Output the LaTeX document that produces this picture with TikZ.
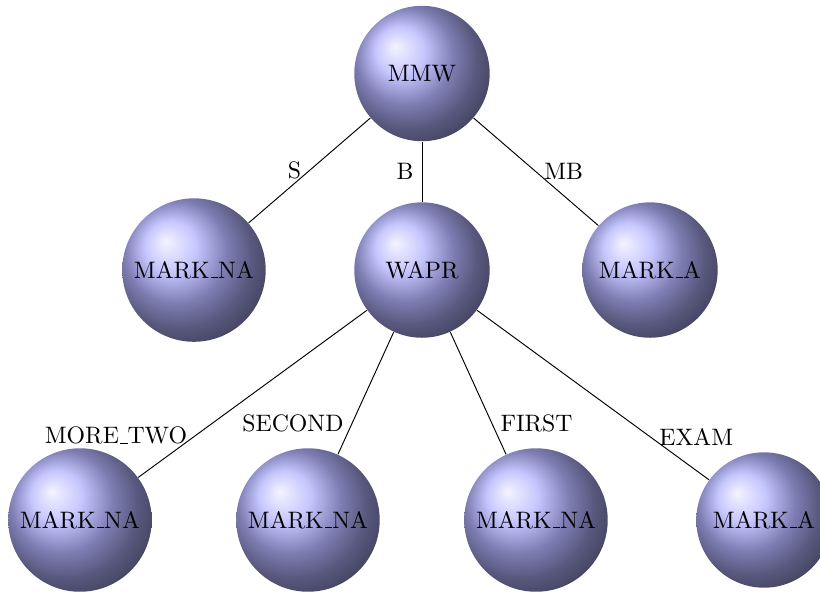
\documentclass[tikz,border=0pt]{standalone}
\usepackage{tikz}
\usetikzlibrary{shapes, positioning, calc}
\newcommand{\undsc}{\leavevmode\kern.06em\vbox{\hrule width.3em}}

\tikzset{
  ball/.style = {circle, ball color = blue!30, minimum size = 2cm, inner sep = 4pt},
  lbl/.style = {font = \normalsize}
}

\begin{document}
\begin{tikzpicture}
\useasboundingbox (-6.233,1.086) rectangle (5.879,-7.644);
% root
\node[ball] (mmw) at (0,0) {MMW};
% level 1
\node[ball] (nal1) at (-3.368,-2.903) {MARK\undsc NA};
\node[ball] (wapr) at (0,-2.903) {WAPR};
\node[ball] (mal1) at (3.368,-2.903) {MARK\undsc A};
% level 2
\node[ball] (na1) at (-5.052,-6.595) {MARK\undsc NA};
\node[ball] (na2) at (-1.684,-6.595) {MARK\undsc NA};
\node[ball] (na3) at (1.684,-6.595) {MARK\undsc NA};
\node[ball] (ma2) at (5.052,-6.595) {MARK\undsc A};

\draw (mmw) -- node[left, lbl] {S} (nal1);
\draw (mmw) -- node[left, lbl] {B} (wapr);
\draw (mmw) -- node[right, lbl] {MB} (mal1);

\draw (wapr) -- node[near end, left, lbl] {MORE\undsc TWO} (na1);
\draw (wapr) -- node[near end, left, lbl] {SECOND} (na2);
\draw (wapr) -- node[near end, right, lbl] {FIRST} (na3);
\draw (wapr) -- node[near end, right, lbl] {EXAM} (ma2);
\end{tikzpicture}
\end{document}
